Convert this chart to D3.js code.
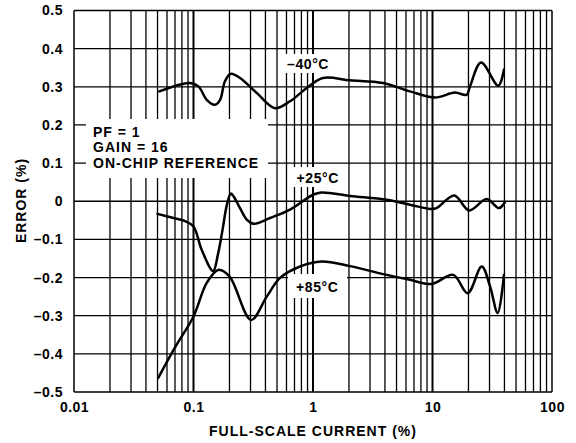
<!DOCTYPE html>
<html>
<head>
<meta charset="utf-8">
<script src="https://cdn.jsdelivr.net/npm/d3@7"></script>
<style>
  html, body { margin: 0; padding: 0; background: #fff; }
  svg { display: block; }
  text { font-family: "Liberation Sans", Arial, Helvetica, sans-serif; font-weight: bold; fill: #000; }
</style>
</head>
<body>
<svg id="chart" width="576" height="443"></svg>
<script>
// ---- data ----
const xTickValues = [0.01, 0.1, 1, 10, 100];
const xTickLabels = ["0.01", "0.1", "1", "10", "100"];
const yTickValues = [-0.5, -0.4, -0.3, -0.2, -0.1, 0, 0.1, 0.2, 0.3, 0.4, 0.5];
const yTickLabels = ["–0.5", "–0.4", "–0.3", "–0.2", "–0.1", "0", "0.1", "0.2", "0.3", "0.4", "0.5"];
const xTitle = "FULL-SCALE CURRENT (%)";
const yTitle = "ERROR (%)";
const noteLines = ["PF = 1", "GAIN = 16", "ON-CHIP REFERENCE"];
const seriesNames = ["–40°C", "+25°C", "+85°C"];

const minus40 = [[0.0517,0.288],[0.0935,0.31],[0.11,0.301],[0.129,0.266],[0.151,0.253],[0.167,0.266],[0.183,0.314],[0.205,0.334],[0.245,0.323],[0.338,0.284],[0.481,0.244],[0.642,0.262],[0.886,0.297],[1.21,0.323],[2.04,0.317],[3.85,0.31],[6.48,0.288],[10.5,0.272],[15.4,0.285],[19.3,0.279],[20.6,0.301],[25.5,0.364],[35.5,0.303],[39.6,0.345]];
const plus25 = [[0.05,-0.033],[0.068,-0.044],[0.085,-0.052],[0.1,-0.066],[0.117,-0.127],[0.146,-0.183],[0.16,-0.14],[0.175,-0.075],[0.19,-0.01],[0.205,0.02],[0.216,0.013],[0.245,-0.018],[0.279,-0.048],[0.317,-0.059],[0.437,-0.044],[0.642,-0.022],[1.0,0.017],[1.18,0.023],[2.04,0.014],[4.14,0.004],[6.48,-0.009],[9.53,-0.02],[10.8,-0.018],[15.2,0.015],[20.3,-0.024],[28.4,0.006],[36,-0.018],[40.4,-0.002]];
const plus85 = [[0.0507,-0.463],[0.071,-0.38],[0.1,-0.302],[0.129,-0.214],[0.161,-0.18],[0.2,-0.197],[0.303,-0.311],[0.41,-0.25],[0.53,-0.201],[0.78,-0.171],[1.18,-0.158],[2.04,-0.17],[4.14,-0.193],[6.48,-0.206],[9.85,-0.217],[14.9,-0.193],[19.7,-0.241],[25.8,-0.171],[30.3,-0.223],[35.1,-0.293],[39.6,-0.193]];

// ---- layout ----
const svg = d3.select("#chart");
const x = d3.scaleLog().domain([0.01, 100]).range([74, 552]);
const y = d3.scaleLinear().domain([-0.5, 0.5]).range([392, 10.5]);

// minor + major vertical grid
const decades = [0.01, 0.1, 1, 10];
const minorX = [];
decades.forEach(d => { for (let k = 2; k <= 9; k++) minorX.push(d * k); });

const grid = svg.append("g");
grid.selectAll("line.vminor").data(minorX).enter().append("line")
  .attr("x1", d => x(d)).attr("x2", d => x(d))
  .attr("y1", y(0.5)).attr("y2", y(-0.5))
  .attr("stroke", "#000").attr("stroke-width", 1.3);
grid.selectAll("line.vmajor").data(xTickValues).enter().append("line")
  .attr("x1", d => x(d)).attr("x2", d => x(d))
  .attr("y1", y(0.5)).attr("y2", y(-0.5))
  .attr("stroke", "#000").attr("stroke-width", (d, i) => (i === 0 || i === 4) ? 1.5 : 2);
grid.selectAll("line.h").data(yTickValues).enter().append("line")
  .attr("x1", x(0.01)).attr("x2", x(100))
  .attr("y1", d => y(d)).attr("y2", d => y(d))
  .attr("stroke", "#000").attr("stroke-width", 1.3);

// white label backgrounds
const boxes = [
  [86, 119, 182, 59],   // note box
  [280, 54, 57, 19],    // -40
  [291, 167, 53, 20],   // +25
  [288, 274, 59, 24]    // +85
];
svg.append("g").selectAll("rect").data(boxes).enter().append("rect")
  .attr("x", d => d[0]).attr("y", d => d[1]).attr("width", d => d[2]).attr("height", d => d[3])
  .attr("fill", "#fff");

// curves
const line = d3.line().x(d => x(d[0])).y(d => y(d[1])).curve(d3.curveCatmullRom.alpha(0.5));
svg.append("g").selectAll("path").data([minus40, plus25, plus85]).enter().append("path")
  .attr("d", line).attr("fill", "none").attr("stroke", "#000").attr("stroke-width", 2.5)
  .attr("stroke-linejoin", "round").attr("stroke-linecap", "round");

// axes labels
const xAxis = d3.axisBottom(x).tickValues(xTickValues)
  .tickFormat((d, i) => xTickLabels[i]).tickSize(0).tickPadding(10);
const gx = svg.append("g").attr("transform", `translate(0,${y(-0.5)})`).call(xAxis);
gx.select(".domain").remove();
gx.selectAll("text").attr("font-size", 14).style("font-family", "Liberation Sans, Arial, sans-serif").style("font-weight", "bold").style("letter-spacing", "0.5px");

const yAxis = d3.axisLeft(y).tickValues(yTickValues)
  .tickFormat((d, i) => yTickLabels[i]).tickSize(0).tickPadding(11);
const gy = svg.append("g").attr("transform", `translate(${x(0.01)},0)`).call(yAxis);
gy.select(".domain").remove();
gy.selectAll("text").attr("font-size", 14).style("font-family", "Liberation Sans, Arial, sans-serif").style("font-weight", "bold").style("letter-spacing", "0.5px");

// titles
svg.append("text").attr("x", 313).attr("y", 436).attr("text-anchor", "middle")
  .attr("font-size", 14).style("letter-spacing", "1px").text(xTitle);
svg.append("text").attr("transform", "translate(26,200.5) rotate(-90)").attr("text-anchor", "middle")
  .attr("font-size", 14).style("letter-spacing", "1px").text(yTitle);

// note
svg.append("g").selectAll("text").data(noteLines).enter().append("text")
  .attr("x", 93).attr("y", (d, i) => 136.7 + i * 15.5)
  .attr("font-size", 14).style("letter-spacing", "1px").text(d => d);

// series labels
const labelPos = [[287, 69.3], [296.5, 182.7], [296, 291.7]];
svg.append("g").selectAll("text").data(seriesNames).enter().append("text")
  .attr("x", (d, i) => labelPos[i][0]).attr("y", (d, i) => labelPos[i][1])
  .attr("font-size", 14).style("letter-spacing", "0.6px").text(d => d);
</script>
</body>
</html>
